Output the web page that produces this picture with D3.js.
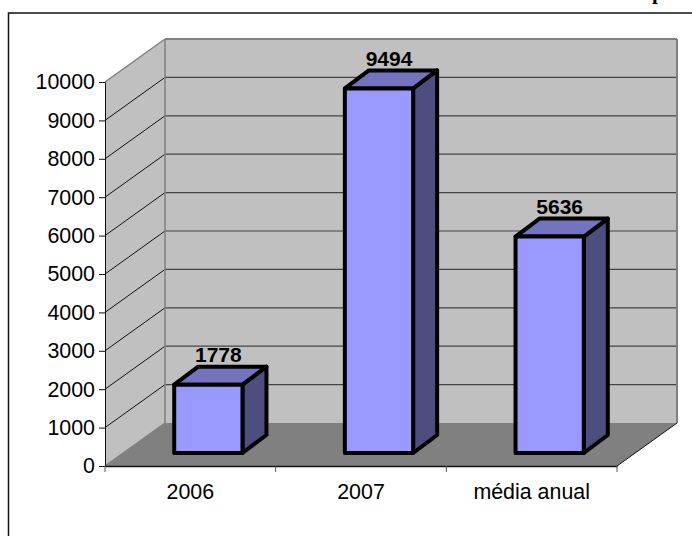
<!DOCTYPE html>
<meta charset="utf-8">
<style>
  html, body { margin: 0; padding: 0; background: #fff; }
  svg { display: block; }
  text { font-family: "Liberation Sans", Arial, sans-serif; fill: #000; }
</style>
<script src="https://d3js.org/d3.v7.min.js"></script>
<div id="chart"></div>
<script>

var categories = ["2006", "2007", "média anual"];
var values = [1778, 9494, 5636];
var yTicks = [0, 1000, 2000, 3000, 4000, 5000, 6000, 7000, 8000, 9000, 10000];

var width = 692, height = 536;

// the plot box: front edge of the floor and how far the back wall is pushed
var x0 = 105, x1 = 617, y0 = 466, y1 = 82;
var wallDx = 60, wallDy = -43;
// bars stand a bit inside the floor and have their own depth
var barDx = 18, barDy = -13, depthDx = 24, depthDy = -18;

var svg = d3.select("#chart").append("svg")
    .attr("width", width)
    .attr("height", height);

var x = d3.scaleBand()
    .domain(categories)
    .range([x0, x1])
    .paddingInner(0.6)
    .paddingOuter(0.3);

var y = d3.scaleLinear()
    .domain([0, 10000])
    .range([y0, y1]);

function poly(points) {
  return "M" + points.map(function(p) { return p.join(","); }).join("L") + "Z";
}

// frame around the chart, runs off the page on the right and bottom
svg.append("path")
    .attr("d", "M8.5," + height + "V13H" + width)
    .attr("fill", "none")
    .attr("stroke", "#111")
    .attr("stroke-width", 1.5);

// clipped end of the heading above the frame
svg.append("text")
    .attr("x", 652)
    .attr("y", -1.5)
    .style("font-family", "'Liberation Serif', serif")
    .style("font-weight", "bold")
    .style("font-size", "21px")
    .text("p");

// side wall
svg.append("path")
    .attr("d", poly([[x0, y0], [x0, y1], [x0 + wallDx, y1 + wallDy], [x0 + wallDx, y0 + wallDy]]))
    .attr("fill", "#c0c0c0");

// back wall
svg.append("path")
    .attr("d", poly([[x0 + wallDx, y1 + wallDy], [x1 + wallDx, y1 + wallDy], [x1 + wallDx, y0 + wallDy], [x0 + wallDx, y0 + wallDy]]))
    .attr("fill", "#c0c0c0");

// floor
svg.append("path")
    .attr("d", poly([[x0, y0], [x1, y0], [x1 + wallDx, y0 + wallDy], [x0 + wallDx, y0 + wallDy]]))
    .attr("fill", "#808080");

// gridlines on both walls
var grid = yTicks.slice(1);
svg.selectAll(".grid-side").data(grid).enter().append("line")
    .attr("x1", x0)
    .attr("y1", function(d) { return y(d); })
    .attr("x2", x0 + wallDx)
    .attr("y2", function(d) { return y(d) + wallDy; })
    .attr("stroke", function(d) { return d === 10000 ? "#808080" : "#111"; })
    .attr("stroke-width", function(d) { return d === 10000 ? 1.5 : 1; });
svg.selectAll(".grid-back").data(grid).enter().append("line")
    .attr("x1", x0 + wallDx)
    .attr("y1", function(d) { return y(d) + wallDy; })
    .attr("x2", x1 + wallDx)
    .attr("y2", function(d) { return y(d) + wallDy; })
    .attr("stroke", function(d) { return d === 10000 ? "#808080" : "#444"; })
    .attr("stroke-width", function(d) { return d === 10000 ? 2 : 1.2; });

// wall edges
svg.append("path")
    .attr("d", "M" + (x0 + wallDx) + "," + (y1 + wallDy) + "V" + (y0 + wallDy) + "L" + x0 + "," + y0)
    .attr("fill", "none")
    .attr("stroke", "#808080")
    .attr("stroke-width", 1.5);
svg.append("path")
    .attr("d", "M" + (x1 + wallDx) + "," + (y1 + wallDy) + "V" + (y0 + wallDy))
    .attr("fill", "none")
    .attr("stroke", "#808080")
    .attr("stroke-width", 2);
svg.append("line")
    .attr("x1", x1).attr("y1", y0)
    .attr("x2", x1 + wallDx).attr("y2", y0 + wallDy)
    .attr("stroke", "#111");

// bars
var bars = svg.selectAll(".bar")
    .data(categories.map(function(c, i) { return { cat: c, value: values[i] }; }))
  .enter().append("g")
    .attr("class", "bar")
    .attr("stroke", "#000")
    .attr("stroke-width", 4)
    .attr("stroke-linejoin", "round");

function barLeft(d) { return x(d.cat) + barDx; }
function barRight(d) { return x(d.cat) + x.bandwidth() + barDx; }
function barTop(d) { return y(d.value) + barDy; }
var barBottom = y(0) + barDy;

bars.append("path")
    .attr("fill", "#4d4d80")
    .attr("d", function(d) {
      return poly([[barRight(d), barTop(d)], [barRight(d) + depthDx, barTop(d) + depthDy], [barRight(d) + depthDx, barBottom + depthDy], [barRight(d), barBottom]]);
    });
bars.append("path")
    .attr("fill", "#7373bf")
    .attr("d", function(d) {
      return poly([[barLeft(d), barTop(d)], [barLeft(d) + depthDx, barTop(d) + depthDy], [barRight(d) + depthDx, barTop(d) + depthDy], [barRight(d), barTop(d)]]);
    });
bars.append("path")
    .attr("fill", "#9999ff")
    .attr("d", function(d) {
      return poly([[barLeft(d), barTop(d)], [barRight(d), barTop(d)], [barRight(d), barBottom], [barLeft(d), barBottom]]);
    });

// value labels
svg.selectAll(".value").data(bars.data()).enter().append("text")
    .attr("class", "value")
    .attr("x", function(d) { return (barLeft(d) + barRight(d) + depthDx) / 2 - 2; })
    .attr("y", function(d) { return barTop(d) + depthDy - 4.5; })
    .attr("text-anchor", "middle")
    .style("font-weight", "bold")
    .style("font-size", "21px")
    .text(function(d) { return d.value; });

// y axis
var yAxis = svg.append("g")
    .attr("transform", "translate(" + x0 + ",0)")
    .call(d3.axisLeft(y).tickValues(yTicks).tickFormat(d3.format("d")).tickSize(6).tickPadding(4));
yAxis.selectAll("text").style("font-size", "21.4px");
yAxis.selectAll("line, path").attr("stroke", "#111");

// x axis, labels centred in each band, ticks between the bands
var xAxis = svg.append("g")
    .attr("transform", "translate(0," + y0 + ")")
    .call(d3.axisBottom(x).tickSize(0).tickPadding(18));
xAxis.selectAll("text").style("font-size", "21.4px");
xAxis.select("path").attr("stroke", "#111").attr("stroke-width", 1.5);
svg.selectAll(".xtick").data(d3.range(categories.length + 1)).enter().append("line")
    .attr("x1", function(i) { return x0 + i * x.step(); })
    .attr("x2", function(i) { return x0 + i * x.step(); })
    .attr("y1", y0)
    .attr("y2", y0 + 6)
    .attr("stroke", "#555");

</script>
